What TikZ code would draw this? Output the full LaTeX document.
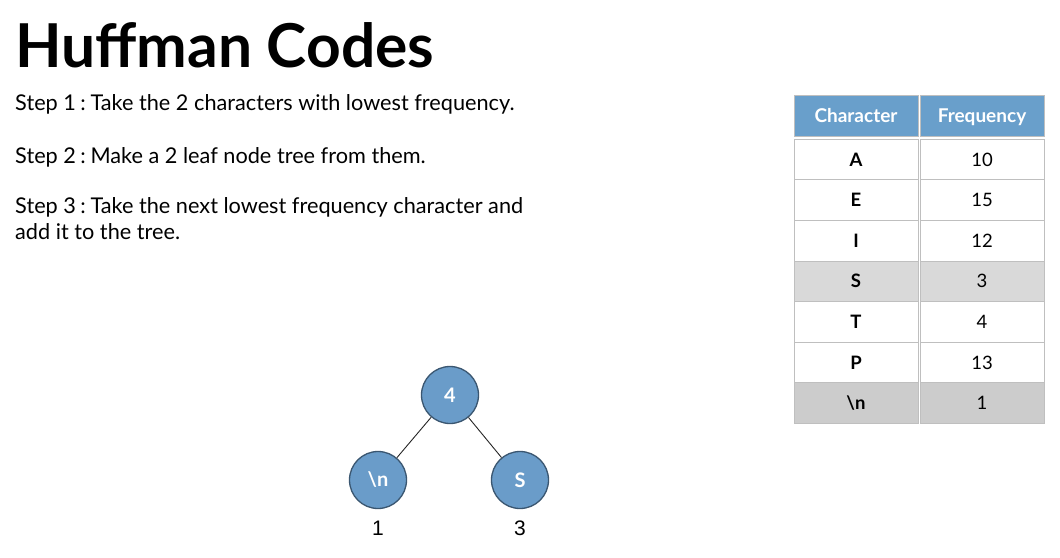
\documentclass[tikz,border=0pt]{standalone}
\usepackage{fontspec}
\setmainfont{Lato}
\newfontfamily\arialfont{Liberation Sans}
\definecolor{hdrblue}{HTML}{699FCB}
\definecolor{nodeblue}{HTML}{6A9CC9}
\definecolor{nodeedge}{HTML}{3A5670}
\definecolor{gridgray}{HTML}{BFBFBF}
\definecolor{rowgray}{HTML}{D9D9D9}
\definecolor{rowgrayb}{HTML}{CCCCCC}
\newcommand{\sep}{\hspace{0.2em}:\hspace{0.22em}}
\tikzset{
  treenode/.style={circle, fill=nodeblue, draw=nodeedge, line width=1.3pt, minimum size=57pt, inner sep=0pt, text=white, font=\bfseries\fontsize{20}{22}\selectfont},
  edge/.style={draw=black!85, line width=0.9pt},
  steptext/.style={anchor=west, inner sep=0pt, font=\fontsize{21.7}{26}\selectfont, align=left},
  cell/.style={minimum width=124pt, minimum height=40.6pt, inner sep=0pt, draw=gridgray, line width=1pt, text height=13.3pt, text depth=0pt, font=\fontsize{18.5}{20}\selectfont},
  chr/.style={cell, font=\bfseries\fontsize{18.5}{20}\selectfont},
  hdr/.style={cell, fill=hdrblue, text=white, text height=13.7pt, text depth=0pt, font=\bfseries\fontsize{19}{22}\selectfont},
  freq/.style={font=\arialfont\fontsize{21}{24}\selectfont, inner sep=0pt}
}
\begin{document}
\begin{tikzpicture}[x=1pt,y=-1pt]
\useasboundingbox[fill=white] (0,0) rectangle (1060,557);
% title
\node[anchor=west, inner sep=0pt, font=\bfseries\fontsize{60.5}{66}\selectfont] (title) at (15,45) {Huffman Codes};
% steps
\node[steptext] (s1) at (15,104) {Step 1\sep Take the 2 characters with lowest frequency.};
\node[steptext] (s2) at (15,157) {Step 2\sep Make a 2 leaf node tree from them.};
\node[steptext, anchor=north west] (s3) at (15,197) {Step 3\sep Take the next lowest frequency character and\\add it to the tree.};
% table
\node[hdr] (h1) at (856,116) {Character};
\node[hdr] (h2) at (982,116) {Frequency};
\node[chr] (c1) at (856,159.5) {A};
\node[cell] (f1) at (982,159.5) {10};
\node[chr] (c2) at (856,200.1) {E};
\node[cell] (f2) at (982,200.1) {15};
\node[chr] (c3) at (856,240.7) {I};
\node[cell] (f3) at (982,240.7) {12};
\node[chr, fill=rowgray] (c4) at (856,281.3) {S};
\node[cell, fill=rowgray] (f4) at (982,281.3) {3};
\node[chr] (c5) at (856,321.9) {T};
\node[cell] (f5) at (982,321.9) {4};
\node[chr] (c6) at (856,362.5) {P};
\node[cell] (f6) at (982,362.5) {13};
\node[chr, fill=rowgrayb] (c7) at (856,403.1) {\textbackslash n};
\node[cell, fill=rowgrayb] (f7) at (982,403.1) {1};
% tree
\node[treenode] (root) at (450,395) {4};
\node[treenode] (nl) at (378,480) {\textbackslash n};
\node[treenode] (sr) at (520,480) {S};
\draw[edge] (root) -- (nl);
\draw[edge] (root) -- (sr);
\node[freq] (w1) at (378,528) {1};
\node[freq] (w3) at (520,528) {3};
\end{tikzpicture}
\end{document}
